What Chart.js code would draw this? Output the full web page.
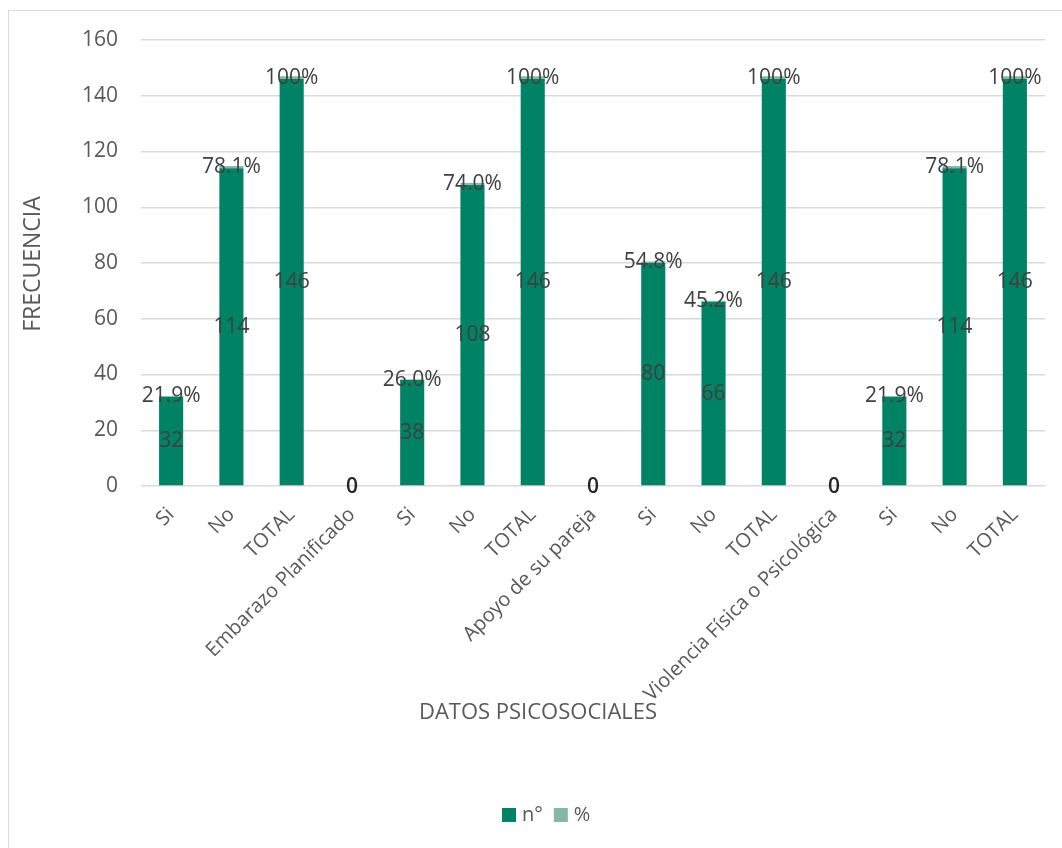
<!DOCTYPE html>
<html>
<head>
<meta charset="utf-8">
<script src="https://cdn.jsdelivr.net/npm/chart.js@4"></script>
<style>
  html, body { margin: 0; padding: 0; background: #fff; overflow: hidden; }
  #wrap { position: relative; width: 1062px; height: 848px; }
  #frame { position: absolute; left: 8px; top: 10px; width: 1100px; height: 900px; border: 1px solid #d9d9d9; box-sizing: border-box; }
  canvas { position: absolute; left: 0; top: 0; }
</style>
</head>
<body>
<div id="wrap">
  <div id="frame"></div>
  <canvas id="c" width="1062" height="848"></canvas>
</div>
<script>
const categories = ['Si', 'No', 'TOTAL', 'Embarazo Planificado', 'Si', 'No', 'TOTAL', 'Apoyo de su pareja', 'Si', 'No', 'TOTAL', 'Violencia Física o Psicológica', 'Si', 'No', 'TOTAL'];
const frecuencia = [32, 114, 146, 0, 38, 108, 146, 0, 80, 66, 146, 0, 32, 114, 146];
const porcentaje = [0.219, 0.781, 1, null, 0.26, 0.74, 1, null, 0.548, 0.452, 1, null, 0.219, 0.781, 1];
const yTicks = [0, 20, 40, 60, 80, 100, 120, 140, 160];
const seriesNames = ['n°', '%'];
const xTitle = 'DATOS PSICOSOCIALES';
const yTitle = 'FRECUENCIA';

const FONT = '"Open Sans", "Liberation Sans", sans-serif';
const GREEN = '#008264';
const LIGHT = '#85B8A4';
const TXT = '#595959';
const LBL = '#404040';

function fmtPct(v) {
  const p = v * 100;
  return p === 100 ? '100%' : p.toFixed(1) + '%';
}

const labelsPlugin = {
  id: 'labelsPlugin',
  afterDatasetsDraw(chart) {
    const ctx = chart.ctx;
    ctx.save();
    ctx.textAlign = 'center';
    ctx.textBaseline = 'middle';
    const m0 = chart.getDatasetMeta(0);
    m0.data.forEach((el, i) => {
      const v = chart.data.datasets[0].data[i];
      if (v === null || v === undefined) return;
      if (v === 0) {
        ctx.font = '600 21px ' + FONT;
        ctx.fillStyle = '#262626';
        ctx.fillText(String(v), el.x, el.y + 1);
      } else {
        ctx.font = '21px ' + FONT;
        ctx.fillStyle = LBL;
        ctx.fillText(String(v), el.x, (el.y + el.base) / 2);
      }
    });
    const m1 = chart.getDatasetMeta(1);
    m1.data.forEach((el, i) => {
      const v = chart.data.datasets[1].data[i];
      if (v === null || v === undefined) return;
      ctx.font = '21px ' + FONT;
      ctx.fillStyle = LBL;
      ctx.fillText(fmtPct(v), el.x, (el.y + el.base) / 2);
    });
    ctx.restore();
  },
  afterDraw(chart) {
    const ctx = chart.ctx;
    ctx.save();
    ctx.fillStyle = TXT;
    ctx.textAlign = 'center';
    ctx.textBaseline = 'middle';
    ctx.font = '22px ' + FONT;
    ctx.fillText(xTitle, 538, 713);
    ctx.save();
    ctx.font = '23px ' + FONT;
    ctx.translate(33, 264);
    ctx.rotate(-Math.PI / 2);
    ctx.fillText(yTitle, 0, 0);
    ctx.restore();
    const ds = chart.data.datasets;
    ctx.font = '20px ' + FONT;
    ctx.textAlign = 'left';
    const box = 14;
    let x = 502;
    const cy = 815;
    ds.forEach((d) => {
      ctx.fillStyle = d.backgroundColor;
      ctx.fillRect(x, cy - box / 2, box, box);
      ctx.fillStyle = TXT;
      ctx.fillText(d.label, x + box + 6, cy);
      x += box + 6 + ctx.measureText(d.label).width + 11;
    });
    ctx.restore();
  }
};

new Chart(document.getElementById('c'), {
  type: 'bar',
  data: {
    labels: categories,
    datasets: [
      { label: seriesNames[0], data: frecuencia, backgroundColor: GREEN, barPercentage: 0.4, categoryPercentage: 1.0 },
      { label: seriesNames[1], data: porcentaje, backgroundColor: LIGHT, barPercentage: 0.4, categoryPercentage: 1.0 }
    ]
  },
  options: {
    responsive: false,
    animation: false,
    layout: { padding: { left: 0, top: 40, right: 17, bottom: 0 } },
    plugins: { legend: { display: false }, tooltip: { enabled: false }, title: { display: false } },
    scales: {
      x: {
        stacked: true,
        grid: { display: false, drawTicks: false },
        border: { display: false },
        ticks: { color: TXT, font: { family: FONT, size: 20 }, minRotation: 45, maxRotation: 45, padding: 17, autoSkip: false },
        afterFit(s) { s.height = 848 - 486; }
      },
      y: {
        stacked: true,
        min: 0, max: 160,
        afterBuildTicks(s) { s.ticks = yTicks.map(v => ({ value: v })); },
        grid: { color: '#d9d9d9', lineWidth: 1.5, drawTicks: false },
        border: { display: false },
        ticks: { color: TXT, font: { family: FONT, size: 21 }, padding: 23 },
        afterFit(s) { s.width = 141; }
      }
    }
  },
  plugins: [labelsPlugin]
});
</script>
</body>
</html>
